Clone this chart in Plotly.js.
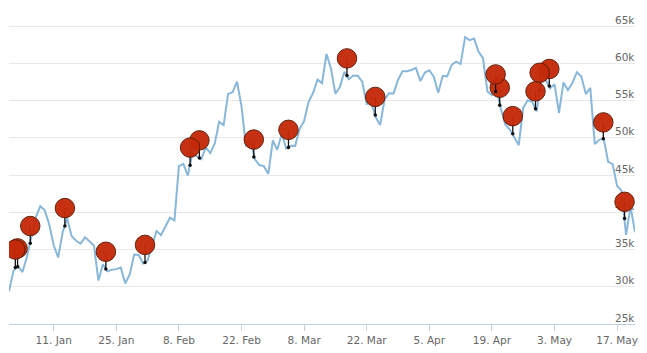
<!DOCTYPE html>
<html><head><meta charset="utf-8">
<script src="https://cdn.plot.ly/plotly-3.0.1.min.js"></script>
<style>html,body{margin:0;padding:0;background:#fff}</style></head>
<body><div id="chart" style="width:647px;height:353px"></div>
<script>
const startDay = '2021-01-01';
const prices = [29374,32127,32782,31971,33992,36824,39371,40797,40254,38356,35566,33922,37316,39187,36825,36178,35792,36630,36070,35547,30826,33005,32067,32289,32366,32569,30432,31650,34316,34269,33114,33538,35510,37472,36926,38144,39266,38903,46196,46481,44918,47909,47504,47105,48717,47945,49199,52149,51679,55888,56099,57539,54207,48824,49705,47093,46339,46188,45137,49631,48378,50538,48561,48927,48912,51206,52246,54824,56008,57805,57332,61243,59302,55907,56804,58870,57858,58346,58313,57523,54529,54738,52774,51704,55137,55973,55950,57750,58917,58918,59095,59384,57603,58758,59057,58192,56048,58323,58245,59793,60204,59893,63503,63109,63314,61572,60683,56216,55724,56473,53906,51762,51093,50050,49004,54021,55033,54824,53555,57750,57828,56631,57200,53333,57424,56396,57356,58803,58232,55859,56704,49150,49716,49880,46760,46456,43537,42909,36964,40784,37304];
const pinDates = ['2021-01-02 10:00','2021-01-02 22:00','2021-01-05 18:00','2021-01-13 12:00','2021-01-22 16:00','2021-01-31 10:00','2021-02-10 12:00','2021-02-12 14:00','2021-02-24 18:00','2021-03-04 12:00','2021-03-17 14:00','2021-03-23 22:00','2021-04-19 20:00','2021-04-20 18:00','2021-04-23 16:00','2021-04-28 18:00','2021-04-29 16:00','2021-05-01 20:00','2021-05-13 22:00','2021-05-18 16:00'];
const pinValues = [32600,32700,35850,38170,32370,33270,46300,47280,47420,48680,58370,53050,56220,54350,50550,53900,56400,56930,49880,39160];
const pinHeads = [35000,35150,38150,40560,34700,35620,48680,49650,49760,51060,60650,55480,58500,56720,52900,56230,58720,59230,52060,41400];
const tickDates = ['2021-01-11','2021-01-25','2021-02-08','2021-02-22','2021-03-08','2021-03-22','2021-04-05','2021-04-19','2021-05-03','2021-05-17'];
const tickLabels = ['11. Jan','25. Jan','8. Feb','22. Feb','8. Mar','22. Mar','5. Apr','19. Apr','3. May','17. May'];
const priceTicks = [25000,30000,35000,40000,45000,50000,55000,60000,65000];
const priceTickLabels = ['25k','30k','35k','40k','45k','50k','55k','60k','65k'];

const t0 = Date.parse(startDay + 'T00:00:00Z');
const dates = prices.map((_, i) => new Date(t0 + i * 86400000).toISOString().slice(0, 10));
const traces = [{x: dates, y: prices, mode: 'lines', line: {color: '#89b7d9', width: 2}, hoverinfo: 'skip'}];
for (let i = pinDates.length - 1; i >= 0; i--) {
  traces.push({
    x: [pinDates[i], pinDates[i]], y: [pinValues[i], pinHeads[i]], mode: 'lines+markers',
    line: {color: '#111111', width: 1.3},
    marker: {size: [3.5, 19.5], color: ['#111111', '#c42a08'], opacity: [1, 0.96], line: {color: ['#111111', '#5c1c08'], width: [0, 1]}},
    hoverinfo: 'skip'
  });
}
const layout = {
  width: 647, height: 353, showlegend: false, paper_bgcolor: '#fff', plot_bgcolor: '#fff',
  margin: {l: 9, r: 12, t: 23, b: 29},
  font: {family: '"DejaVu Sans", sans-serif', size: 10.5, color: '#666'},
  xaxis: {type: 'date', range: ['2021-01-01', '2021-05-21'], tickmode: 'array', tickvals: tickDates, ticktext: tickLabels,
    showgrid: false, zeroline: false, showline: true, linecolor: '#c0d0e0', linewidth: 1, ticks: 'outside', ticklen: 6, tickcolor: '#c0d0e0', tickwidth: 1},
  yaxis: {range: [25000, 65403], side: 'right', tickmode: 'array', tickvals: priceTicks, ticktext: priceTickLabels,
    ticklabelstandoff: -21, ticklabelshift: -6, ticklabeloverflow: 'allow', showgrid: true, gridcolor: '#e8e8e8', gridwidth: 1, zeroline: false, showline: false, ticks: '', layer: 'below traces'}
};
Plotly.newPlot('chart', traces, layout, {displayModeBar: false, staticPlot: true});
</script></body></html>
